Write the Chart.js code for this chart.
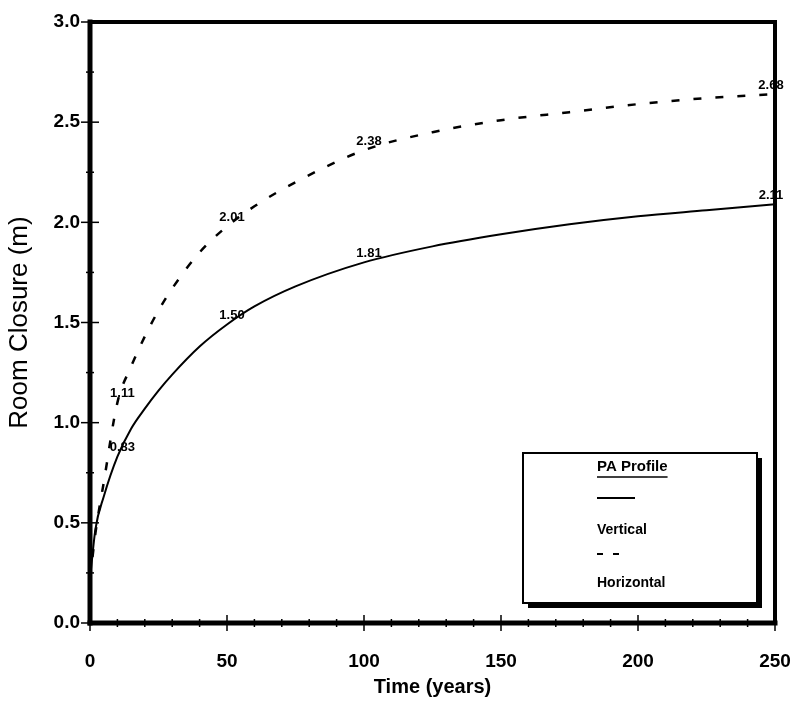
<!DOCTYPE html>
<html>
<head>
<meta charset="utf-8">
<script src="https://cdn.jsdelivr.net/npm/chart.js@4/dist/chart.umd.min.js"></script>
<style>
  html, body { margin: 0; padding: 0; background: #fff; }
  #wrap { width: 800px; height: 704px; }
</style>
</head>
<body>
<div id="wrap"><canvas id="c" width="800" height="704"></canvas></div>
<script>
// ---- data ----
const times = [0, 2, 5, 10, 15, 20, 25, 30, 40, 50, 60, 75, 100, 125, 150, 175, 200, 225, 250];
const vertical = [0.22, 0.47, 0.63, 0.83, 0.97, 1.07, 1.16, 1.24, 1.38, 1.49, 1.58, 1.68, 1.80, 1.88, 1.94, 1.99, 2.03, 2.06, 2.09];
const horizontal = [0.22, 0.45, 0.70, 1.10, 1.28, 1.43, 1.56, 1.67, 1.85, 1.98, 2.08, 2.20, 2.36, 2.45, 2.51, 2.55, 2.59, 2.62, 2.64];
const labelTimes = [10, 50, 100, 250];
const verticalLabels = ['0.83', '1.50', '1.81', '2.11'];
const horizontalLabels = ['1.11', '2.01', '2.38', '2.68'];
const seriesNames = ['Vertical', 'Horizontal'];
const legendTitle = 'PA Profile';
const xTitle = 'Time (years)';
const yTitle = 'Room Closure (m)';

const FONT = "'Liberation Sans', Arial, Helvetica, sans-serif";

const framePlugin = {
  id: 'frame',
  afterDatasetsDraw(chart) {
    const {ctx, chartArea: a, scales} = chart;
    const xs = scales.x, ys = scales.y;
    ctx.save();
    ctx.strokeStyle = '#000';
    ctx.lineCap = 'square';
    ctx.lineWidth = 4;
    ctx.beginPath(); ctx.moveTo(a.left, a.top); ctx.lineTo(a.right, a.top); ctx.stroke();
    ctx.beginPath(); ctx.moveTo(a.right, a.top); ctx.lineTo(a.right, a.bottom); ctx.stroke();
    ctx.lineWidth = 5;
    ctx.beginPath(); ctx.moveTo(a.left, a.top); ctx.lineTo(a.left, a.bottom); ctx.stroke();
    ctx.beginPath(); ctx.moveTo(a.left, a.bottom); ctx.lineTo(a.right, a.bottom); ctx.stroke();
    ctx.lineCap = 'butt';
    ctx.lineWidth = 1.5;
    for (let v = 0; v <= 250; v += 10) {
      const px = xs.getPixelForValue(v);
      const major = v % 50 === 0;
      const h = major ? 8 : 4;
      ctx.beginPath(); ctx.moveTo(px, a.bottom - h); ctx.lineTo(px, a.bottom + h); ctx.stroke();
    }
    for (let v = 0; v <= 3.0001; v += 0.25) {
      const py = ys.getPixelForValue(v);
      const major = Math.abs(v / 0.5 - Math.round(v / 0.5)) < 1e-6;
      const w = major ? 9 : 4;
      ctx.beginPath(); ctx.moveTo(a.left - w, py); ctx.lineTo(a.left + w, py); ctx.stroke();
    }
    ctx.restore();
  },
  afterDraw(chart) {
    const {ctx, chartArea: a} = chart;
    ctx.save();
    ctx.font = 'bold 13px ' + FONT;
    ctx.fillStyle = '#000';
    ctx.textAlign = 'center';
    ctx.textBaseline = 'middle';
    const sets = [verticalLabels, horizontalLabels];
    chart.data.datasets.forEach((ds, di) => {
      const meta = chart.getDatasetMeta(di);
      labelTimes.forEach((t, li) => {
        const idx = times.indexOf(t);
        const pt = meta.data[idx];
        const x = Math.min(pt.x + 5, a.right - 4);
        const y = pt.y - 9;
        ctx.fillText(sets[di][li], x, y);
      });
    });
    // legend box
    const L = 523, T = 453, R = 757, B = 603;
    ctx.fillStyle = '#000';
    ctx.fillRect(L + 5, T + 5, R - L, B - T);
    ctx.fillStyle = '#fff';
    ctx.fillRect(L, T, R - L, B - T);
    ctx.strokeStyle = '#000';
    ctx.lineWidth = 2;
    ctx.strokeRect(L, T, R - L, B - T);
    ctx.fillStyle = '#000';
    ctx.textAlign = 'left';
    ctx.textBaseline = 'middle';
    ctx.font = 'bold 15px ' + FONT;
    const tw = ctx.measureText(legendTitle).width;
    const tx = 597;
    ctx.fillText(legendTitle, tx, 467);
    ctx.lineWidth = 1.5;
    ctx.beginPath(); ctx.moveTo(tx, 477); ctx.lineTo(tx + tw, 477); ctx.stroke();
    ctx.lineWidth = 2;
    ctx.beginPath(); ctx.moveTo(tx, 498); ctx.lineTo(tx + 38, 498); ctx.stroke();
    ctx.font = 'bold 14px ' + FONT;
    ctx.fillText(seriesNames[0], tx, 530);
    ctx.setLineDash([6, 10]);
    ctx.beginPath(); ctx.moveTo(tx, 554); ctx.lineTo(tx + 28, 554); ctx.stroke();
    ctx.setLineDash([]);
    ctx.fillText(seriesNames[1], tx, 583);
    ctx.restore();
  }
};

const toPts = (arr) => arr.map((v, i) => ({x: times[i], y: v}));

new Chart(document.getElementById('c'), {
  type: 'line',
  data: {
    datasets: [
      { label: seriesNames[0], data: toPts(vertical), borderColor: '#000', borderWidth: 2,
        pointRadius: 0, fill: false, cubicInterpolationMode: 'monotone' },
      { label: seriesNames[1], data: toPts(horizontal), borderColor: '#000', borderWidth: 2.5,
        borderDash: [8, 14], pointRadius: 0, fill: false, cubicInterpolationMode: 'monotone' }
    ]
  },
  options: {
    responsive: false,
    animation: false,
    devicePixelRatio: 1,
    layout: { padding: { top: 22, right: 25, left: 0, bottom: 0 } },
    plugins: { legend: { display: false }, tooltip: { enabled: false } },
    scales: {
      x: {
        type: 'linear', min: 0, max: 250,
        grid: { display: true, drawOnChartArea: false, drawTicks: true, tickLength: 27, color: 'rgba(0,0,0,0)' },
        border: { display: false },
        ticks: { stepSize: 50, padding: 0, color: '#000', font: { family: FONT, size: 19, weight: 'bold' },
                 callback: (v) => String(v), maxRotation: 0 },
        title: { display: true, text: xTitle, color: '#000', font: { family: FONT, size: 20, weight: 'bold' },
                 padding: { top: 0, bottom: 5 } },
        afterFit: (s) => { s.height = 81; }
      },
      y: {
        min: 0, max: 3,
        grid: { display: true, drawOnChartArea: false, drawTicks: true, tickLength: 10, color: 'rgba(0,0,0,0)' },
        border: { display: false },
        ticks: { stepSize: 0.5, padding: 0, color: '#000', font: { family: FONT, size: 19, weight: 'bold' },
                 callback: (v) => Number(v).toFixed(1) },
        title: { display: true, text: yTitle, color: '#000', font: { family: FONT, size: 26 },
                 padding: { top: 4, bottom: 0 } },
        afterFit: (s) => { s.width = 90; }
      }
    }
  },
  plugins: [framePlugin]
});
</script>
</body>
</html>
